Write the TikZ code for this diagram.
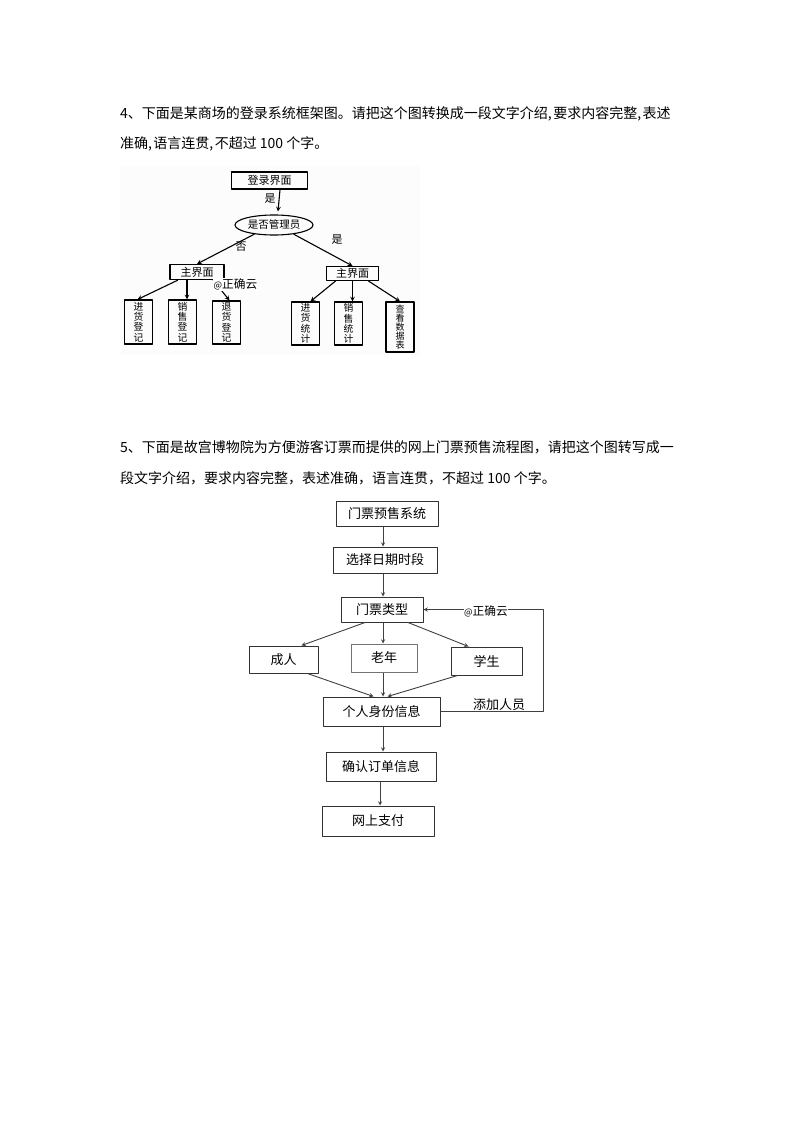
\documentclass[tikz,border=0pt]{standalone}
\usepackage{fontspec}
\usetikzlibrary{shapes.geometric}
\setmainfont{Noto Sans CJK SC}
\newcommand{\fs}[1]{\fontsize{#1}{#1}\selectfont}
\newcommand{\cm}{,\hspace{1.4pt}}
\begin{document}
\begin{tikzpicture}[x=1pt,y=-1pt,>=stealth,line join=round,
    textline/.style={anchor=base west,inner sep=0pt,font=\fs{14}},
    boxa/.style={draw,line width=1.1pt,inner sep=0pt,font=\fs{11}},
    leaf/.style={draw,line width=1.1pt,inner sep=0pt,align=center,font=\fontsize{9.8}{10.3}\selectfont,minimum width=28pt,execute at begin node={\rule{0pt}{10.5pt}}},
    lab/.style={inner sep=0pt,font=\fs{11}},
    wmark/.style={inner sep=.5pt,fill=white,font=\fs{11.7}},
    boxb/.style={draw=black!80,line width=1pt,inner sep=0pt,font=\fs{13}},
    arra/.style={->,line width=1.1pt},
    arrb/.style={->,draw=black!75,line width=.9pt}]
\useasboundingbox (0,0) rectangle (794,1123);
\fill[black!1] (120,166) rectangle (420,355);
% cau 4
\node[textline] (q4a) at (120,119) {4、下面是某商场的登录系统框架图。请把这个图转换成一段文字介绍\cm 要求内容完整\cm 表述};
\node[textline] (q4b) at (120,149) {准确\cm 语言连贯\cm 不超过 100 个字。};
\node[boxa,minimum width=76pt,minimum height=17pt] (login) at (269.5,180.5) {登录界面};
\node[draw,line width=1.1pt,ellipse,inner sep=0pt,minimum width=78pt,minimum height=20pt,font=\fs{10.5}] (manager) at (274,225) {是否管理员};
\node[boxa,minimum width=54pt,minimum height=15pt] (mainL) at (197,272) {主界面};
\node[boxa,minimum width=52pt,minimum height=14pt] (mainR) at (352.5,273.5) {主界面};
\node[leaf,minimum height=44pt] (inL) at (138.5,322) {进\\货\\登\\记};
\node[leaf,minimum height=44pt] (saleL) at (182.5,322) {销\\售\\登\\记};
\node[leaf,minimum height=43pt] (backL) at (226.5,322.5) {退\\货\\登\\记};
\node[leaf,minimum height=43pt] (inR) at (305.5,323.5) {进\\货\\统\\计};
\node[leaf,minimum height=43pt] (saleR) at (348.5,323.5) {销\\售\\统\\计};
\node[leaf,minimum height=50pt,font=\fontsize{9}{9.2}\selectfont] (data) at (400,327) {查\\看\\数\\据\\表};
\draw[arra] ([xshift=10.5]login.south) -- ([xshift=4,yshift=3]manager.north);
\draw[arra] (manager.205) -- (mainL.north);
\draw[arra] (manager.335) -- (mainR.north);
\draw[arra] ([xshift=-19]mainL.south) -- ([xshift=-1]inL.north);
\draw[arra] ([xshift=-10]mainL.south) -- ([xshift=-10]mainL.south |- saleL.north);
\draw[arra] ([xshift=16]mainL.south) -- ([xshift=3]backL.north);
\draw[arra] ([xshift=-17]mainR.south) -- ([xshift=5]inR.north);
\draw[arra] (mainR.south) -- (mainR.south |- saleR.north);
\draw[arra] ([xshift=16]mainR.south) -- (data.north);
\node[lab] (yes1) at (270,199) {是};
\node[lab] (no1) at (241,247) {否};
\node[lab] (yes2) at (337,240) {是};
\node[wmark] (mark1) at (235.5,284.5) {{\fs{9}@}正确云};
% cau 5
\node[textline] (q5a) at (120,452) {5、下面是故宫博物院为方便游客订票而提供的网上门票预售流程图，请把这个图转写成一};
\node[textline] (q5b) at (120,483) {段文字介绍，要求内容完整，表述准确，语言连贯，不超过 100 个字。};
\node[boxb,minimum width=102pt,minimum height=25pt] (sys) at (387,513.5) {门票预售系统};
\node[boxb,minimum width=104pt,minimum height=26pt] (date) at (385,560) {选择日期时段};
\node[boxb,minimum width=82pt,minimum height=25pt] (ticket) at (382,609.5) {门票类型\hspace{4pt}};
\node[boxb,minimum width=69pt,minimum height=27pt] (adult) at (283.5,659.5) {成人\hspace{6pt}};
\node[boxb,draw=black!55,minimum width=66pt,minimum height=28pt] (old) at (384,658) {老年};
\node[boxb,minimum width=71pt,minimum height=28pt] (student) at (486.5,661) {学生};
\node[boxb,minimum width=117pt,minimum height=29pt] (info) at (381.5,711.5) {个人身份信息};
\node[boxb,minimum width=110pt,minimum height=29pt] (confirm) at (381,766.5) {确认订单信息};
\node[boxb,minimum width=112pt,minimum height=30pt] (pay) at (378,821) {网上支付};
\coordinate (corner) at (543,609.5);
\draw[arrb] ([xshift=-4]sys.south) -- ([xshift=-2]date.north);
\draw[arrb] ([xshift=-2]date.south) -- ([xshift=1]ticket.north);
\draw[arrb] ([xshift=-17]ticket.south) -- ([xshift=18]adult.north);
\draw[arrb] ([xshift=1]ticket.south) -- ([xshift=-1]old.north);
\draw[arrb] ([xshift=26]ticket.south) -- ([xshift=-18]student.north);
\draw[arrb] ([xshift=24]adult.south) -- ([xshift=-8]info.north);
\draw[arrb] ([xshift=-1]old.south) -- ([xshift=1.5]info.north);
\draw[arrb] ([xshift=-29]student.south) -- ([xshift=6]info.north);
\draw[arrb] ([xshift=1.5]info.south) -- ([xshift=2]confirm.north);
\draw[arrb] ([xshift=-1]confirm.south) -- ([xshift=2]pay.north);
\draw[arrb] (info.east) -| (corner) -- (ticket.east);
\node[inner sep=0pt,font=\fs{13}] (add) at (499,705) {添加人员};
\node[wmark] (mark2) at (486,611.5) {{\fs{9}@}正确云};
\end{tikzpicture}
\end{document}
